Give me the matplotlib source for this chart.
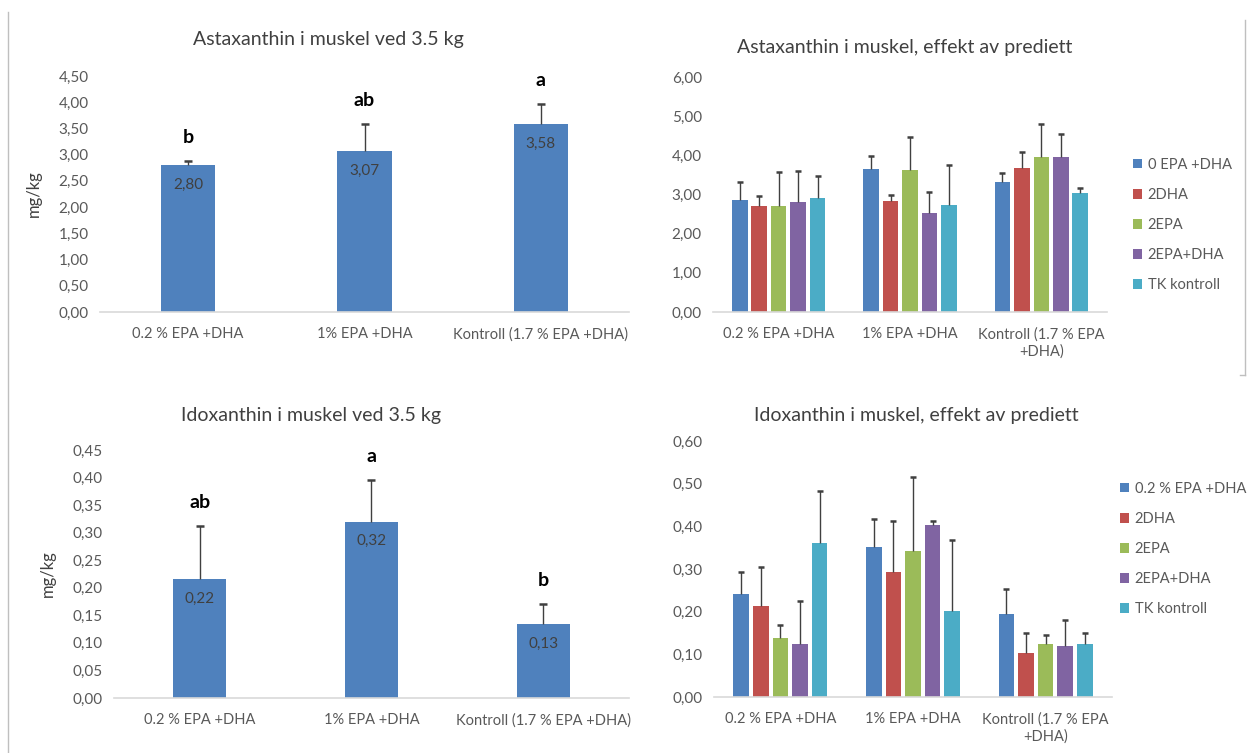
import matplotlib
matplotlib.use('Agg')
import matplotlib.pyplot as plt
import numpy as np
from matplotlib.ticker import FuncFormatter, MultipleLocator
from matplotlib.lines import Line2D
from matplotlib.patches import Patch

plt.rcParams['font.family'] = ['Lato', 'DejaVu Sans']

# ---- data ----
diets = ['0.2 % EPA +DHA', '1% EPA +DHA', 'Kontroll (1.7 % EPA +DHA)']
diets_wrapped = ['0.2 % EPA +DHA', '1% EPA +DHA', 'Kontroll (1.7 % EPA\n+DHA)']

asta_mean = [2.80, 3.07, 3.58]
asta_err = [0.08, 0.52, 0.39]
asta_letters = ['b', 'ab', 'a']

idox_mean = [0.216, 0.320, 0.134]
idox_err = [0.096, 0.076, 0.037]
idox_letters = ['ab', 'a', 'b']

prediets_top = ['0 EPA +DHA', '2DHA', '2EPA', '2EPA+DHA', 'TK kontroll']
prediets_bot = ['0.2 % EPA +DHA', '2DHA', '2EPA', '2EPA+DHA', 'TK kontroll']

# rows = prediet, columns = diet
asta_pre = [[2.86, 3.64, 3.31],
            [2.71, 2.84, 3.67],
            [2.71, 3.62, 3.95],
            [2.81, 2.52, 3.95],
            [2.91, 2.72, 3.04]]
asta_pre_err = [[0.46, 0.34, 0.24],
                [0.25, 0.14, 0.42],
                [0.87, 0.85, 0.86],
                [0.79, 0.54, 0.59],
                [0.57, 1.04, 0.12]]

idox_pre = [[0.241, 0.351, 0.195],
            [0.213, 0.294, 0.103],
            [0.138, 0.342, 0.124],
            [0.124, 0.402, 0.120],
            [0.360, 0.201, 0.124]]
idox_pre_err = [[0.052, 0.067, 0.058],
                [0.092, 0.118, 0.046],
                [0.031, 0.173, 0.021],
                [0.100, 0.010, 0.061],
                [0.122, 0.168, 0.027]]

colors = ['#4F81BD', '#C0504D', '#9BBB59', '#8064A2', '#4BACC6']
TXT = '#595959'
W, H = 1252, 753


def comma(v, dec=2):
    return f"{v:.{dec}f}".replace('.', ',')


def style_axis(ax, ymax, step):
    ax.set_ylim(0, ymax)
    ax.yaxis.set_major_locator(MultipleLocator(step))
    ax.yaxis.set_major_formatter(FuncFormatter(lambda v, p: comma(v)))
    for s in ['top', 'right', 'left']:
        ax.spines[s].set_visible(False)
    ax.spines['bottom'].set_color('#D9D9D9')
    ax.spines['bottom'].set_linewidth(1.2)
    ax.tick_params(axis='both', length=0, colors=TXT, labelsize=10.5)
    ax.tick_params(axis='x', pad=11)
    ax.tick_params(axis='y', pad=8, labelsize=11)


def px_axes(l, r, top, bot):
    return fig.add_axes([l / W, 1 - bot / H, (r - l) / W, (bot - top) / H])


def plus_errors(ax, xs, means, errs, capw):
    # Excel style: only the positive error bar, cap on top
    tops = np.asarray(means) + np.asarray(errs)
    ax.vlines(xs, means, tops, colors='#404040', lw=1, zorder=3)
    ax.scatter(xs, tops, marker='_', s=capw ** 2, color='#404040',
               linewidths=1.8, zorder=3)


def single_chart(ax, means, errs, letters, ymax, step, off, title, tx, ty):
    x = np.arange(len(diets))
    ax.bar(x, means, width=0.31, color=colors[0], zorder=2)
    plus_errors(ax, x, means, errs, 6)
    for xi, m, e, lab in zip(x, means, errs, letters):
        ax.annotate(comma(m), (xi, m), xytext=(0, -14), textcoords='offset points',
                    ha='center', va='center', fontsize=11, color='#404040')
        ax.text(xi, m + e + off, lab, ha='center', va='center', fontsize=14,
                fontweight='bold', color='black')
    ax.set_xlim(-0.5, 2.5)
    ax.set_xticks(x)
    ax.set_xticklabels(diets)
    style_axis(ax, ymax, step)
    fig.text(tx / W, 1 - ty / H, title, ha='center', va='center', fontsize=14, color='#404040')


def group_chart(ax, vals, errs, names, ymax, step, title, tx, ty, leg_x, leg_y):
    x = np.arange(len(diets))
    stepw = 0.148
    for i, (v, e) in enumerate(zip(vals, errs)):
        pos = x + (i - 2) * stepw
        ax.bar(pos, v, width=0.118, color=colors[i], zorder=2, label=names[i])
        plus_errors(ax, pos, v, e, 5)
    ax.set_xlim(-0.5, 2.5)
    ax.set_xticks(x)
    ax.set_xticklabels(diets_wrapped)
    style_axis(ax, ymax, step)
    handles = [Patch(facecolor=c, edgecolor='none') for c in colors]
    fig.legend(handles, names, loc='upper left', bbox_to_anchor=(leg_x / W, 1 - leg_y / H),
               frameon=False, fontsize=10.5, labelcolor=TXT, handlelength=0.6, handleheight=0.6,
               handletextpad=0.4, labelspacing=1.1, borderaxespad=0, borderpad=0)
    fig.text(tx / W, 1 - ty / H, title, ha='center', va='center', fontsize=14, color='#404040')


fig = plt.figure(figsize=(W / 100, H / 100), dpi=100, facecolor='white')

ax1 = px_axes(100, 629, 76, 312)
single_chart(ax1, asta_mean, asta_err, asta_letters, 4.5, 0.5, 0.45,
             'Astaxanthin i muskel ved 3.5 kg', 328, 40)
ax1.set_ylabel('mg/kg', fontsize=12, color='#404040', labelpad=12)

ax2 = px_axes(114, 629, 450, 698)
single_chart(ax2, idox_mean, idox_err, idox_letters, 0.45, 0.05, 0.042,
             'Idoxanthin i muskel ved 3.5 kg', 311, 416)
ax2.set_ylabel('mg/kg', fontsize=12, color='#404040', labelpad=12)

ax3 = px_axes(713, 1107, 77, 312)
group_chart(ax3, asta_pre, asta_pre_err, prediets_top, 6, 1,
            'Astaxanthin i muskel, effekt av prediett', 905, 48, 1133, 158)

ax4 = px_axes(714, 1112, 441, 697)
group_chart(ax4, idox_pre, idox_pre_err, prediets_bot, 0.6, 0.1,
            'Idoxanthin i muskel, effekt av prediett', 916, 416, 1120, 482)

# chart area borders
fig.add_artist(Line2D([8 / W, 8 / W], [1 - 12 / H, 0], color='#BFBFBF', lw=1))
fig.add_artist(Line2D([1245 / W, 1245 / W], [1 - 20 / H, 1 - 375 / H], color='#BFBFBF', lw=1))
fig.add_artist(Line2D([1240 / W, 1245 / W], [1 - 375 / H, 1 - 375 / H], color='#BFBFBF', lw=1))

fig.savefig('out.png', dpi=100, facecolor='white')
